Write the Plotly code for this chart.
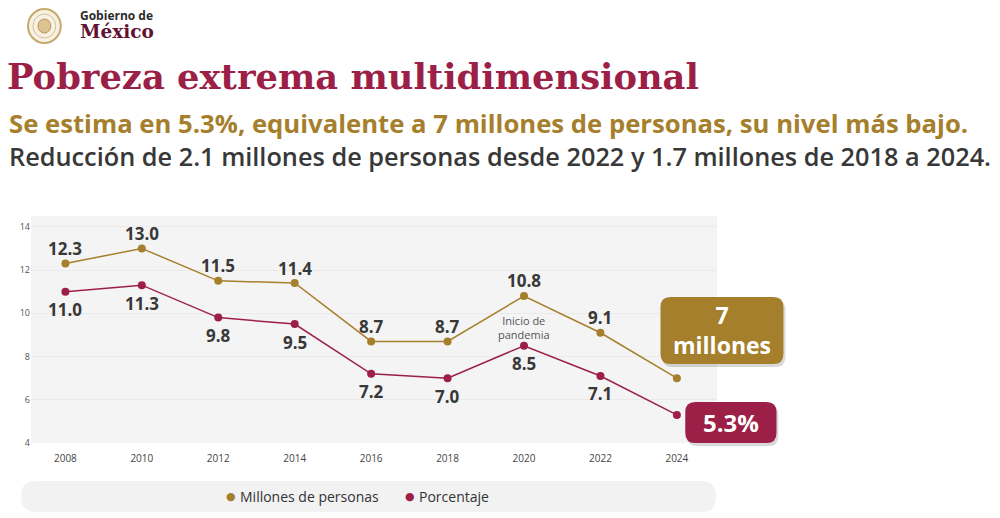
import plotly.graph_objects as go

# datos de la gráfica
years = [2008, 2010, 2012, 2014, 2016, 2018, 2020, 2022, 2024]
millones = [12.3, 13.0, 11.5, 11.4, 8.7, 8.7, 10.8, 9.1, 7.0]
porcentaje = [11.0, 11.3, 9.8, 9.5, 7.2, 7.0, 8.5, 7.1, 5.3]
y_ticks = [4, 6, 8, 10, 12, 14]

GOLD = "#A67F2D"
CRIMSON = "#9C1F47"
DARK = "#383838"

# the page puts the figure 8px in from the top-left corner
OFF = 8
W, H = 1000 - OFF, 518 - OFF
L, R, T, B = 25, 717, 216, 443  # plot area, in page px


def px(x, y):
    # page px -> paper coords
    return (x - L) / (R - L), (B - y) / (B - T)


def rounded_rect(x0, y0, x1, y1, r):
    a = px(x0 + r, y0)
    parts = [f"M {a[0]},{a[1]}"]
    for seg in [
        ("L", x1 - r, y0), ("Q", x1, y0, x1, y0 + r),
        ("L", x1, y1 - r), ("Q", x1, y1, x1 - r, y1),
        ("L", x0 + r, y1), ("Q", x0, y1, x0, y1 - r),
        ("L", x0, y0 + r), ("Q", x0, y0, x0 + r, y0),
    ]:
        if seg[0] == "L":
            p = px(seg[1], seg[2])
            parts.append(f"L {p[0]},{p[1]}")
        else:
            c = px(seg[1], seg[2])
            p = px(seg[3], seg[4])
            parts.append(f"Q {c[0]},{c[1]} {p[0]},{p[1]}")
    return " ".join(parts) + " Z"


fig = go.Figure()

fig.add_trace(go.Scatter(
    x=years, y=millones, mode="lines+markers", name="Millones de personas",
    line=dict(color=GOLD, width=1.5), marker=dict(color=GOLD, size=8),
))
fig.add_trace(go.Scatter(
    x=years, y=porcentaje, mode="lines+markers", name="Porcentaje",
    line=dict(color=CRIMSON, width=1.5), marker=dict(color=CRIMSON, size=8),
))

shapes = []
# legend background
shapes.append(dict(type="path", xref="paper", yref="paper",
                   path=rounded_rect(15, 481, 716, 512, 15),
                   fillcolor="#F2F2F2", line=dict(width=0), layer="below"))
# badges with a soft shadow
for (x0, y0, x1, y1, col) in [(660, 297, 784, 364, GOLD), (685, 402, 777, 443, CRIMSON)]:
    shapes.append(dict(type="path", xref="paper", yref="paper",
                       path=rounded_rect(x0 + 2, y0 + 3, x1 + 2, y1 + 3, 10),
                       fillcolor="rgba(0,0,0,0.15)", line=dict(width=0)))
    shapes.append(dict(type="path", xref="paper", yref="paper",
                       path=rounded_rect(x0, y0, x1, y1, 10),
                       fillcolor=col, line=dict(width=0)))
# escudo (rough stand-in)
for (a, b, c, d, fill, edge, w) in [
    (22, 9, 55, 43, "#F7F1E4", "#C7A96C", 2),
    (27, 14, 50, 38, "rgba(0,0,0,0)", "#D8C08F", 1),
    (32, 19, 45, 33, "#DCC391", "#B8965A", 1),
]:
    p0 = px(a, d)
    p1 = px(c, b)
    shapes.append(dict(type="circle", xref="paper", yref="paper",
                       x0=p0[0], y0=p0[1], x1=p1[0], y1=p1[1],
                       fillcolor=fill, line=dict(color=edge, width=w)))

annotations = []


def note(x, y, text, size, color, family="Open Sans", weight="normal",
         xanchor="left", align="left", pad=1):
    p = px(x, y)
    annotations.append(dict(
        x=p[0], y=p[1], xref="paper", yref="paper", text=text, showarrow=False,
        xanchor=xanchor, yanchor="middle", borderpad=pad, align=align,
        font=dict(family=family, size=size, color=color, weight=weight),
    ))


# logotipo: dos renglones en una sola anotación
note(73, 24,
     "<span style='font-size:12px;color:#2B2B2B'>Gobierno de</span><br>"
     "<span style='font-family:DejaVu Serif;font-size:18.5px;color:#611232'>México</span>",
     14, "#2B2B2B", weight="bold", pad=0)
note(-1, 76, "Pobreza extrema multidimensional", 35.3, CRIMSON, family="DejaVu Serif", weight="bold")
note(1, 124, "Se estima en 5.3%, equivalente a 7 millones de personas, su nivel más bajo.",
     25.7, GOLD, weight="bold")
note(1, 156, "Reducción de 2.1 millones de personas desde 2022 y 1.7 millones de 2018 a 2024.",
     25.3, DARK, weight=600)
note(722, 330, "7<br>millones", 23, "white", weight="bold", xanchor="center", align="center")
note(731, 422, "5.3%", 24, "white", weight="bold", xanchor="center", align="center")

# leyenda manual
note(220, 496, "●", 11, GOLD, family="DejaVu Sans")
note(234, 496, "Millones de personas", 14, "#333333")
note(400, 496, "●", 11, CRIMSON, family="DejaVu Sans")
note(414, 496, "Porcentaje", 14, "#333333")

# etiquetas de datos (2024 va en los recuadros)
label_font = dict(family="Open Sans", size=17, color=DARK, weight="bold")
for yr, m, p in zip(years[:-1], millones[:-1], porcentaje[:-1]):
    annotations.append(dict(x=yr, y=m, yshift=15, text=f"{m:.1f}", showarrow=False,
                            yanchor="middle", font=label_font))
    annotations.append(dict(x=yr, y=p, yshift=-18, text=f"{p:.1f}", showarrow=False,
                            yanchor="middle", font=label_font))

annotations.append(dict(
    x=2020, y=8.5, yshift=2, text="Inicio de<br>pandemia", showarrow=False,
    font=dict(family="Open Sans", size=11, color="#555555"), yanchor="bottom",
))

fig.update_layout(
    width=W, height=H,
    margin=dict(l=L - OFF, r=W - (R - OFF), t=T - OFF, b=H - (B - OFF)),
    paper_bgcolor="white",
    plot_bgcolor="#F4F4F4",
    showlegend=False,
    font=dict(family="Open Sans", color=DARK),
    xaxis=dict(
        range=[2007.1, 2025.05], tickvals=years, showgrid=False, zeroline=False,
        tickfont=dict(size=10, color="#444444"), ticklabelstandoff=8, fixedrange=True,
    ),
    yaxis=dict(
        range=[4, 14.5], tickvals=y_ticks, showgrid=True, gridcolor="#EAEAEA",
        zeroline=False, tickfont=dict(size=9, color="#555555"), fixedrange=True,
    ),
    shapes=shapes,
    annotations=annotations,
)

fig.write_html("out.html")
